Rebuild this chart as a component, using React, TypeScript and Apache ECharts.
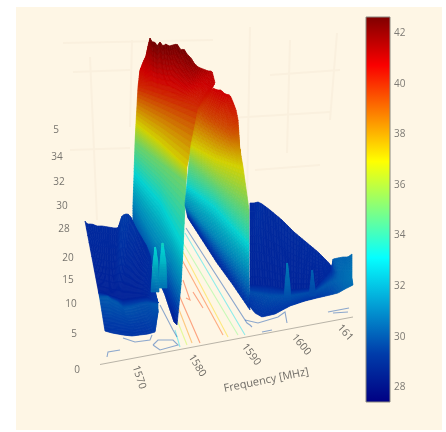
import React, { useEffect, useRef } from "react";
import * as echarts from "echarts";

type P = number[];

// Power scale and colour bar
const powerMin = 27.37;
const powerMax = 42.6;
const colorbarTicks = [28, 30, 32, 34, 36, 38, 40, 42];
const colorStops: [number, number[]][] = [
  [0, [0, 0, 131]],
  [0.125, [0, 60, 170]],
  [0.375, [5, 255, 255]],
  [0.625, [255, 255, 0]],
  [0.875, [250, 0, 0]],
  [1, [128, 0, 0]],
];

// Tick labels of the tilted axes, as [view x, view y, label, tilt in degrees]
const freqTicks: [number, number, string, number][] = [
  [140, 377, "1570", -72],
  [198, 365, "1580", -58],
  [252, 354, "1590", -53],
  [302, 344, "1600", -50],
  [346, 332, "161", -48],
];
const levelTicks: [number, number, string][] = [
  [77, 369, "0"], [74, 333, "5"], [71, 303, "10"], [68, 279, "15"], [68, 257, "20"],
  [64, 228, "28"], [62, 205, "30"], [59, 181, "32"], [57, 156, "34"], [56, 129, "5"],
];
const freqAxisLine: P[] = [[100, 364.5], [353, 317]];

// Surface patches on the view plane: rows of [view x, view y, power]
const leftWall: P[][] = [
  [[140,70,40.6],[144,60,41],[146,56,41.4],[148,46,41.8],[150,38,42.4],[152,42,42.5],[155,42,42.5],[157,46,42.5],[160,42,42.5],[163,46,42.5],[166,44,42.5],[169,46,42.5],[173,45,42.5],[177,44,42.5],[181,50,42.4],[184,49,42.4],[187,54,42.3],[191,58,42.2],[194,63,42],[198,67,41.8],[203,69,41.5],[208,71,41.3],[212,71,41.2],[215,83,40.9],[207,97,40.5]],
  [[138,87,40],[165,96,40],[200,108,40]],
  [[136,123,37],[160,142,37],[187,167,37]],
  [[135,143,35],[186,183,35]],
  [[134,175,33],[160,205,33],[183,250,33]],
  [[133,205,31],[153,240,31],[170,262,31],[181,285,31]],
  [[133,222,30],[150,260,29.5],[165,295,28.8],[174,322,28.3],[177,325,28.3]],
];
const rightWall: P[][] = [
  [[205,97,40.3],[209,92,40.5],[213,88,40.7],[217,90,40.8],[221,90,40.8],[225,94,40.8],[230,95,40.7],[233,102,40.5],[236,110,40.3],[238,120,39.9],[239,135,39],[240,153,37.8]],
  [[198,110,39.5],[215,122,39.4],[232,134,39.2],[240,150,38]],
  [[191,145,37],[215,158,37],[243,167,37]],
  [[189,163,35],[249,210,35]],
  [[187,183,33.5],[215,203,33.5],[249,240,33.5]],
  [[185,205,31],[217,240,31],[249,275,31]],
  [[188,218,28.7],[217,263,28.6],[233,285,28.8],[250,310,29]],
];
const leftFloor: P[][] = [
  [[85,221,28.7],[87,224,28.7],[92,224,28.7],[97,226,28.7],[102,226,28.7],[108,227,28.7],[114,228,28.7],[118,228,28.7],[120,222,28.9],[122,216,29.2],[125,214,29.2],[128,214,29.2],[131,217,29],[135,226,29],[140,235,28.8],[146,245,28.7],[150,255,28.8],[152,268,28.8],[153,280,29],[156,295,29.2],[158,303,29.4]],
  [[98.5,292,28.4],[123,300,28.4],[147,297,28.5],[158,303,29.4]],
  [[99.5,297,29.9],[108,297,30],[112,300,29.9],[118,303,29.9],[123,308,29.8],[130,307,29.8],[140,304,29.7],[147,303,29.7],[158,305,30]],
  [[105,331,28.9],[112,333,29],[123,335,29],[132,336,29],[140,335,29],[148,334,29],[155,332,29.2],[158,312,29.6]],
];
const rightFloor: P[][] = [
  [[250,203,28.7],[254,203,28.7],[258,202,28.9],[262,204,28.8],[266,207,28.7],[270,210,28.7],[276,215,28.7],[282,220,28.7],[288,226,28.7],[294,232,28.7],[300,237,28.7],[306,242,28.7],[312,247,28.7],[318,252,28.7],[323,257,28.7],[328,262,28.7],[332,267,28.7],[333,259,30],[338,258,30.2],[343,257,30.2],[348,257,30.2],[352,254,30.4]],
  [[250,285,28.5],[268,286,28.5],[290,290,28.5],[315,288,28.5],[330,272,28.7],[338,272,30.2],[352,272,30.6]],
  [[250,292,29.6],[270,296,29.7],[290,296,29.7],[315,292,29.7],[332,282,30],[352,278,30.6]],
  [[249,305,29],[255,313,29],[262,317,29],[275,314,29],[290,306,29.2],[305,301,29.1],[317,298,29.2],[330,295,29.4],[338,293,29.8],[345,289,30.2],[353,285,30.4]],
];
const spikes: P[][][] = [
  [[[155,247,33.2],[155.5,247,33.2]],[[153,262,32.5],[158,262,32.5]],[[151,292,30.2],[159,292,30.2]]],
  [[[162,243,33.4],[163,243,33.4]],[[160,262,32.5],[166,262,32.5]],[[158,288,30.6],[167,288,30.6]]],
  [[[287,263,30.8],[287.5,263,30.8]],[[285,285,30.2],[290,285,30.2]],[[284,300,29.6],[291,300,29.6]]],
  [[[312,270,30.2],[312.5,270,30.2]],[[309,296,29.5],[316,296,29.5]]],
];
const surfacePatches: P[][][] = [leftWall, rightWall, leftFloor, rightFloor, ...spikes];

// Contours projected on the floor: [power, points]
const floorContours: [number, P[]][] = [
  [29.5, [[186,228],[247,323],[250,325],[252,327]]],
  [32.5, [[185,233],[245,335]]],
  [35, [[183,243],[238,335]]],
  [37.5, [[182,250],[228,337]]],
  [39.5, [[181,258],[223,335]]],
  [39.8, [[179,295],[200,343]]],
  [38.5, [[178,307],[192,343]]],
  [36, [[177,320],[187,345]]],
  [32.5, [[175,330],[180,347]]],
  [29.5, [[160,305],[173,330],[177,337]]],
  [39.8, [[183,280],[190,300],[186,298]]],
  [39.8, [[193,292],[203,308]]],
  [29.5, [[107,357],[108,352],[120,350]]],
  [29.5, [[123,338],[135,342],[150,340],[152,335]]],
  [29.5, [[153,345],[158,340],[173,340],[178,345],[160,350],[153,345]]],
  [29.5, [[328,312],[349,308]]],
  [29.5, [[333,313],[348,312]]],
  [29.5, [[245,320],[258,323],[278,317],[285,312],[287,323]]],
  [29.5, [[262,332],[272,330]]],
];

// Barely visible grid of the back planes
const backGrid: P[][] = [
  [[63,43],[213,40]], [[90,57],[97,220]], [[132,40],[130,127]], [[250,27],[247,200]],
  [[290,40],[287,153]], [[337,33],[330,120]], [[73,72],[130,70]], [[230,118],[330,112]],
  [[70,150],[130,148]], [[255,170],[320,165]], [[270,75],[340,70]],
];

function powerRgb(v: number): number[] {
  const t = Math.max(0, Math.min(1, (v - powerMin) / (powerMax - powerMin)));
  for (let i = 1; i < colorStops.length; i++) {
    const [b, cb] = colorStops[i];
    const [a, ca] = colorStops[i - 1];
    if (t <= b) {
      const k = (t - a) / (b - a);
      return ca.map((c, j) => c + (cb[j] - c) * k);
    }
  }
  return [128, 0, 0];
}

const powerColor = (v: number) => `rgb(${powerRgb(v).map(Math.round).join(",")})`;

// The walls are lit at an angle, so they read darker than the colour bar
function litColor(v: number): string {
  const shade = 1 - 0.18 * Math.max(0, Math.min(1, (v - 29) / 3));
  return `rgb(${powerRgb(v).map((c) => Math.round(c * shade)).join(",")})`;
}

function resample(row: P[], n: number): P[] {
  const lens = [0];
  for (let i = 1; i < row.length; i++) {
    lens.push(lens[i - 1] + Math.hypot(row[i][0] - row[i - 1][0], row[i][1] - row[i - 1][1]));
  }
  const total = lens[lens.length - 1] || 1;
  const out: P[] = [];
  let s = 1;
  for (let j = 0; j <= n; j++) {
    const d = (j / n) * total;
    while (s < row.length - 1 && lens[s] < d) s++;
    const k = (d - lens[s - 1]) / ((lens[s] - lens[s - 1]) || 1);
    out.push(row[s].map((c, m) => row[s - 1][m] + (c - row[s - 1][m]) * k));
  }
  return out;
}

function patchCells(rows: P[][], api: any) {
  const longest = Math.max(...rows.map((r) => r.length));
  const n = Math.max(6, Math.min(70, longest * 3));
  const sub = 10;
  const grids = rows.map((r) => resample(r, n));
  const cells: any[] = [];
  for (let g = 0; g < grids.length - 1; g++) {
    for (let s = 0; s < sub; s++) {
      for (let j = 0; j < n; j++) {
        const at = (col: number, f: number) =>
          grids[g][col].map((c, m) => c + (grids[g + 1][col][m] - c) * f);
        const a = at(j, s / sub), b = at(j + 1, s / sub);
        const c = at(j + 1, (s + 1) / sub), d = at(j, (s + 1) / sub);
        const fill = litColor((a[2] + b[2] + c[2] + d[2]) / 4);
        cells.push({
          type: "polygon",
          shape: { points: [a, b, c, d].map((p) => api.coord([p[0], p[1]])) },
          style: { fill, stroke: fill, lineWidth: 0.7 },
        });
      }
    }
  }
  return { type: "group", children: cells };
}

const textFont = '"Open Sans", sans-serif';

export default function App() {
  const ref = useRef<HTMLDivElement>(null);
  useEffect(() => {
    const chart = echarts.init(ref.current!, undefined, { renderer: "svg" });
    const gradStops = colorStops.map(([offset, c]) => ({ offset: 1 - offset, color: `rgb(${c.join(",")})` })).reverse();
    chart.setOption({
      animation: false,
      backgroundColor: "transparent",
      graphic: [
        { type: "rect", z: -1, shape: { x: 16, y: 7, width: 426, height: 423 }, style: { fill: "#fef6e5" } },
      ],
      grid: [
        { left: 0, top: 0, width: 446, height: 432 },
        { left: 366, top: 17, width: 24, height: 385 },
      ],
      xAxis: [
        { type: "value", gridIndex: 0, min: 0, max: 446, show: false },
        { type: "value", gridIndex: 1, min: 0, max: 1, show: false },
      ],
      yAxis: [
        { type: "value", gridIndex: 0, min: 0, max: 432, inverse: true, show: false },
        {
          type: "value", gridIndex: 1, position: "right", min: powerMin, max: powerMax, scale: true,
          axisLine: { show: false }, splitLine: { show: false }, axisTick: { show: false },
          axisLabel: {
            customValues: colorbarTicks, margin: 4, color: "#7d7a74", fontSize: 10, fontFamily: textFont,
          },
        },
      ],
      series: [
        {
          type: "custom", name: "grid", xAxisIndex: 0, yAxisIndex: 0, clip: false, silent: true, z: 1,
          data: backGrid.map((_, i) => [i]),
          renderItem: (_p: any, api: any) => {
            const line = backGrid[api.value(0)];
            return { type: "polyline", shape: { points: line.map((q) => api.coord(q)) }, style: { stroke: "#faf0de", lineWidth: 2, fill: "none" } };
          },
        },
        {
          type: "custom", name: "contours", xAxisIndex: 0, yAxisIndex: 0, clip: false, silent: true, z: 2,
          data: floorContours.map((_, i) => [i]),
          renderItem: (_p: any, api: any) => {
            const [v, line] = floorContours[api.value(0)];
            return { type: "polyline", shape: { points: line.map((q) => api.coord(q)) }, style: { stroke: powerColor(v), opacity: 0.45, lineWidth: 1.1, fill: "none" } };
          },
        },
        {
          type: "custom", name: "axis", xAxisIndex: 0, yAxisIndex: 0, clip: false, silent: true, z: 2,
          data: [[0]],
          renderItem: (_p: any, api: any) => ({
            type: "polyline", shape: { points: freqAxisLine.map((q) => api.coord(q)) }, style: { stroke: "#b9b4a8", lineWidth: 1, fill: "none" },
          }),
        },
        {
          type: "custom", name: "surface", xAxisIndex: 0, yAxisIndex: 0, clip: false, silent: true, z: 3,
          data: surfacePatches.map((_, i) => [i]),
          renderItem: (_p: any, api: any) => patchCells(surfacePatches[api.value(0)], api),
        },
        {
          type: "custom", name: "freqTicks", xAxisIndex: 0, yAxisIndex: 0, clip: false, silent: true, z: 4,
          data: freqTicks.map((_, i) => [i]),
          renderItem: (_p: any, api: any) => {
            const [x, y, label, tilt] = freqTicks[api.value(0)];
            const [px, py] = api.coord([x, y]);
            return {
              type: "text", x: px, y: py, rotation: (tilt * Math.PI) / 180,
              style: { text: label, fill: "#6f6c66", fontSize: 10.5, fontFamily: textFont, align: "center", verticalAlign: "middle" },
            };
          },
        },
        {
          type: "custom", name: "levelTicks", xAxisIndex: 0, yAxisIndex: 0, clip: false, silent: true, z: 4,
          data: levelTicks.map((_, i) => [i]),
          renderItem: (_p: any, api: any) => {
            const [x, y, label] = levelTicks[api.value(0)];
            const [px, py] = api.coord([x, y]);
            return {
              type: "text", x: px, y: py,
              style: { text: label, fill: "#77746e", fontSize: 10, fontFamily: textFont, align: "center", verticalAlign: "middle" },
            };
          },
        },
        {
          type: "custom", name: "axisTitle", xAxisIndex: 0, yAxisIndex: 0, clip: false, silent: true, z: 4,
          data: [[266, 379]],
          renderItem: (_p: any, api: any) => {
            const [px, py] = api.coord([api.value(0), api.value(1)]);
            return {
              type: "text", x: px, y: py, rotation: (11.5 * Math.PI) / 180,
              style: { text: "Frequency [MHz]", fill: "#6f6c66", fontSize: 11, fontFamily: textFont, align: "center", verticalAlign: "middle" },
            };
          },
        },
        {
          type: "custom", name: "colorbar", xAxisIndex: 1, yAxisIndex: 1, clip: false, silent: true, z: 3,
          data: [[0, powerMax, 1, powerMin]],
          renderItem: (_p: any, api: any) => {
            const [x0, y0] = api.coord([api.value(0), api.value(1)]);
            const [x1, y1] = api.coord([api.value(2), api.value(3)]);
            return {
              type: "rect",
              shape: { x: x0, y: y0, width: x1 - x0, height: y1 - y0 },
              style: {
                fill: new echarts.graphic.LinearGradient(0, 0, 0, 1, gradStops),
                stroke: "#8a8780", lineWidth: 1,
              },
            };
          },
        },
      ],
    });
    return () => chart.dispose();
  }, []);
  return (
    <div
      ref={ref}
      style={{ position: "absolute", left: 0, top: 0, width: 446, height: 432, filter: "blur(0.7px)" }}
    />
  );
}
